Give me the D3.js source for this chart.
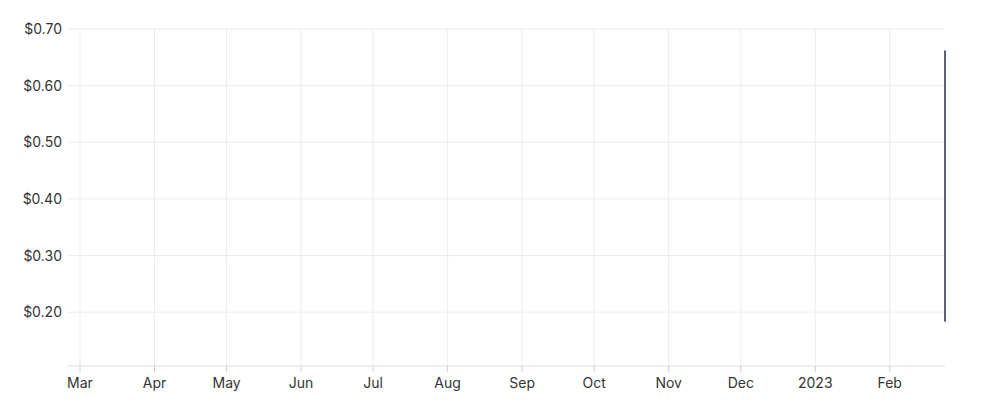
<!DOCTYPE html>
<html><head><meta charset="utf-8">
<script src="https://cdn.jsdelivr.net/npm/d3@7"></script>
<style>body{margin:0;background:#fff}text{font-family:"Inter","Noto Sans",sans-serif}</style>
</head><body>
<script>
// prices, roughly one every 3 calendar days
const prices = [0.195,0.184,0.19,0.218,0.212,0.198,0.209,0.214,0.20,0.239,0.241,0.28,0.297,0.34,0.375,0.451,0.415,0.38,0.398,0.407,0.39,0.366,0.357,0.38,0.37,0.345,0.324,0.34,0.38,0.378,0.366,0.38,0.433,0.468,0.475,0.433,0.368,0.327,0.32,0.30,0.274,0.306,0.303,0.295,0.306,0.28,0.29,0.31,0.305,0.341,0.345,0.357,0.36,0.333,0.31,0.28,0.30,0.297,0.30,0.296,0.298,0.307,0.308,0.30,0.322,0.29,0.336,0.357,0.385,0.38,0.375,0.398,0.385,0.333,0.31,0.34,0.33,0.33,0.31,0.30,0.286,0.31,0.303,0.31,0.307,0.298,0.30,0.327,0.34,0.35,0.355,0.412,0.46,0.439,0.472,0.41,0.46,0.43,0.415,0.392,0.446,0.527,0.515,0.44,0.445,0.43,0.465,0.45,0.551,0.525,0.528,0.492,0.515,0.566,0.557,0.578,0.615,0.623,0.64,0.63,0.625,0.61,0.61,0.661,0.655];
const startDate = new Date(2022, 1, 24);
const endDate = new Date(2023, 1, 24);
const yTicks = [0.2, 0.3, 0.4, 0.5, 0.6, 0.7];
const xTicks = [new Date(2022,2,1),new Date(2022,3,1),new Date(2022,4,1),new Date(2022,5,1),new Date(2022,6,1),new Date(2022,7,1),new Date(2022,8,1),new Date(2022,9,1),new Date(2022,10,1),new Date(2022,11,1),new Date(2023,0,1),new Date(2023,1,1)];

const W = 1000, H = 408, mLeft = 68, mRight = 945, mTop = 29, mBottom = 366;
const idx = d3.scaleLinear().domain([0, prices.length - 1]).range([startDate, endDate]);
const data = prices.map((v, i) => ({date: idx(i), v: v}));

const x = d3.scaleTime().domain([startDate, endDate]).range([mLeft, mRight]);
const y = d3.scaleLinear().domain([0.105, 0.70]).range([mBottom, mTop]);

const svg = d3.select("body").append("svg").attr("width", W).attr("height", H);

const grad = svg.append("defs").append("linearGradient").attr("id", "g")
  .attr("x1", 0).attr("y1", 0).attr("x2", 0).attr("y2", 1);
grad.append("stop").attr("offset", "0%").attr("stop-color", "#b9cfea").attr("stop-opacity", 0.95);
grad.append("stop").attr("offset", "100%").attr("stop-color", "#eef3fb").attr("stop-opacity", 0.6);

// grid
svg.append("g").selectAll("line").data(yTicks).enter().append("line")
  .attr("x1", mLeft).attr("x2", mRight).attr("y1", d => y(d)).attr("y2", d => y(d))
  .attr("stroke", "#ececec");
svg.append("g").selectAll("line").data(xTicks).enter().append("line")
  .attr("x1", d => x(d)).attr("x2", d => x(d)).attr("y1", mTop).attr("y2", mBottom)
  .attr("stroke", "#ececec");

svg.append("path").datum(data)
  .attr("d", d3.area().x(d => x(d.date)).y0(mBottom).y1(d => y(d.v)))
  .attr("fill", "url(#g)");
svg.append("path").datum(data)
  .attr("d", d3.line().x(d => x(d.date)).y(d => y(d.v)))
  .attr("fill", "none").attr("stroke", "#1f3158").attr("stroke-width", 1.5).attr("stroke-linejoin", "round");

svg.append("line").attr("x1", mLeft).attr("x2", mRight).attr("y1", mBottom).attr("y2", mBottom).attr("stroke", "#ddd");

// y labels
svg.append("g").selectAll("text").data(yTicks).enter().append("text")
  .attr("x", 62).attr("y", d => y(d) + 5).attr("text-anchor", "end")
  .attr("font-size", 14).attr("fill", "#333").text(d => "$" + d.toFixed(2));

// x labels and ticks
svg.append("g").selectAll("line").data(xTicks).enter().append("line")
  .attr("x1", d => x(d)).attr("x2", d => x(d)).attr("y1", mBottom).attr("y2", mBottom + 6).attr("stroke", "#ccc");
svg.append("g").selectAll("text").data(xTicks).enter().append("text")
  .attr("x", d => x(d)).attr("y", 388).attr("text-anchor", "middle")
  .attr("font-size", 14).attr("fill", "#333")
  .text(d => d.getMonth() === 0 ? d.getFullYear() : d3.timeFormat("%b")(d));
</script>
</body></html>
